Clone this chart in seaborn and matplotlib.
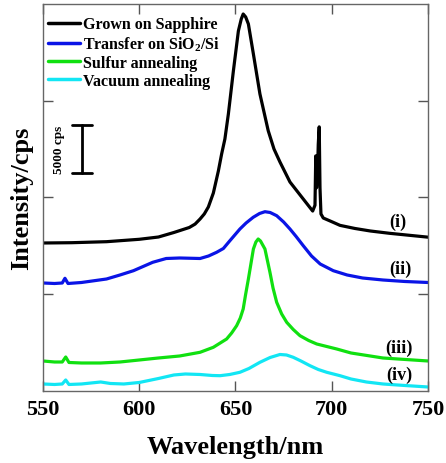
import matplotlib
matplotlib.use("Agg")
import matplotlib.pyplot as plt
import seaborn as sns
import pandas as pd

sns.set_theme(style="white")
plt.rcParams['font.family'] = ['Liberation Serif', 'DejaVu Serif']
plt.rcParams['font.weight'] = 'bold'
plt.rcParams['text.color'] = 'black'
plt.rcParams['axes.labelcolor'] = 'black'
plt.rcParams['mathtext.fontset'] = 'custom'
plt.rcParams['mathtext.rm'] = 'Liberation Serif:bold'
plt.rcParams['mathtext.bf'] = 'Liberation Serif:bold'
plt.rcParams['mathtext.it'] = 'Liberation Serif:bold'

# ---- data (wavelength in nm, intensity in cps, offset-stacked) ----
wl_i = [550, 565, 583, 600, 610, 618, 626, 629, 631.6, 633.8, 635.9, 638.5, 641.1, 642.8,
        644.5, 646.3, 648.9, 651.5, 653, 654, 655.3, 656.7, 659.3, 662.7, 667, 670, 673.1,
        678.3, 685.2, 690.1, 691.3, 691.7, 692.1, 692.6, 693.0, 693.5, 693.9, 694.4, 695.6,
        700, 704.3, 712, 720, 730, 740, 750]
int_i = [15297, 15328, 15432, 15680, 15917, 16383, 16900, 17250, 17778, 18300, 19018, 20465,
         22739, 24496, 26047, 28631, 33075, 37210, 38450, 38967, 38657, 37933, 34832, 30698,
         26905, 25013, 23670, 21602, 19845, 18600, 19200, 24300, 21000, 22500, 25500, 27300,
         21000, 18300, 17880, 17500, 17120, 16800, 16540, 16300, 16100, 15900]

wl_ii = [550, 556, 560, 561.4, 563, 570, 583, 590, 597, 607, 614, 621, 631.6, 636, 640.2,
         643.7, 647.1, 652.3, 655.5, 659.2, 662.5, 665.3, 668, 671.4, 675, 678.3, 681.5,
         685.2, 689.5, 694, 700.8, 708, 716, 726.6, 738, 750]
int_ii = [11163, 11111, 11163, 11649, 11111, 11215, 11576, 11990, 12434, 13302, 13695, 13747,
          13695, 13954, 14336, 14729, 15535, 16744, 17364, 17954, 18347, 18532, 18450, 18119,
          17468, 16744, 15969, 15018, 13954, 13127, 12434, 11990, 11680, 11473, 11318, 11215]

wl_iii = [550, 556, 560, 561.8, 563.5, 570, 580, 590, 600, 610, 621, 631.6, 638.5, 645.4,
          648, 650.6, 652.5, 654, 655.3, 656.7, 658, 659.3, 660.6, 661.8, 663, 665.3, 667.9,
          669.5, 671.4, 674, 676.6, 680, 683.5, 688, 692.2, 702.6, 710, 726.6, 750]
int_iii = [3101, 2997, 2997, 3514, 2946, 2894, 2894, 2997, 3204, 3411, 3618, 4000, 4517, 5375,
           5995, 6749, 7545, 8475, 10026, 11576, 13127, 14677, 15400, 15710, 15503, 14677,
           12269, 10646, 9168, 7959, 7101, 6357, 5716, 5220, 4858, 4341, 3928, 3411, 3101]

wl_iv = [550, 556, 560, 561.8, 563.5, 570, 575, 580, 585, 592, 600, 610, 618, 624, 631.6,
         638, 642, 647, 652.3, 657, 662.7, 668, 673.1, 676.5, 680, 684, 688.7, 693, 697.4,
         704.3, 710, 718, 726.6, 738, 750]
int_iv = [724, 672, 724, 1137, 672, 724, 827, 930, 775, 724, 879, 1292, 1654, 1757, 1705,
          1602, 1581, 1705, 1933, 2326, 2966, 3463, 3773, 3721, 3483, 3101, 2615, 2222, 1933,
          1581, 1240, 930, 724, 568, 413]

series_names = ["Grown on Sapphire", r"Transfer on SiO$_\mathbf{2}$/Si",
                "Sulfur annealing", "Vacuum annealing"]
series_tags = ["(i)", "(ii)", "(iii)", "(iv)"]
colors = ["#000000", "#0a14e6", "#10e010", "#12e6f4"]

x_ticks = [550, 600, 650, 700, 750]
y_ticks = [10000, 20000, 30000]
scale_bar = 5000

# ---- figure ----
fig = plt.figure(figsize=(4.46, 4.64), dpi=100)
ax = fig.add_axes([0.0964, 0.1552, 0.8632, 0.834])

for wl, inten, name, c in zip([wl_i, wl_ii, wl_iii, wl_iv],
                              [int_i, int_ii, int_iii, int_iv],
                              series_names, colors):
    df = pd.DataFrame({"wl": wl, "I": inten})
    sns.lineplot(data=df, x="wl", y="I", color=c, lw=2.3, label=name,
                 estimator=None, sort=False, ax=ax)

ax.set_xlim(550, 750)
ax.set_ylim(0, 40000)
ax.set_xticks(x_ticks)
ax.set_xticklabels([str(t) for t in x_ticks], fontsize=16, fontweight='bold')
ax.set_yticks(y_ticks)
ax.set_yticklabels([])
ax.tick_params(direction='in', length=7, width=1, top=True, right=True,
               left=True, bottom=True, pad=6, color='#555555', labelcolor='black')
for s in ax.spines.values():
    s.set_color('#666666')
    s.set_linewidth(1.0)

ax.set_xlabel("Wavelength/nm", fontsize=19, fontweight='bold', labelpad=11)
ax.set_ylabel("Intensity/cps", fontsize=19, fontweight='bold', labelpad=1)

# tags
tag_pos = [(734.4, 17570), (735.5, 12710), (734.9, 4550), (734.9, 1760)]
for t, (x, y) in zip(series_tags, tag_pos):
    ax.text(x, y, t, fontsize=13, fontweight='bold', ha='center', va='center')

# scale bar
bx, by0 = 570.3, 22500
ax.plot([bx, bx], [by0, by0 + scale_bar], color='black', lw=2)
ax.plot([bx - 5.2, bx + 5.2], [by0, by0], color='black', lw=2)
ax.plot([bx - 5.2, bx + 5.2], [by0 + scale_bar, by0 + scale_bar], color='black', lw=2)
ax.text(558.5, by0 + scale_bar / 2, "5000 cps", rotation=90, fontsize=9.5,
        fontweight='bold', ha='center', va='center')

leg = ax.legend(loc='upper left', bbox_to_anchor=(0.0, 0.981), fontsize=11.5,
                frameon=False, handlelength=2.0, handletextpad=0.2,
                labelspacing=0.125, borderaxespad=0.2, borderpad=0.1)
for line in leg.get_lines():
    line.set_linewidth(2.5)
for txt in leg.get_texts():
    txt.set_fontweight('bold')

fig.savefig("out.png", dpi=100)
